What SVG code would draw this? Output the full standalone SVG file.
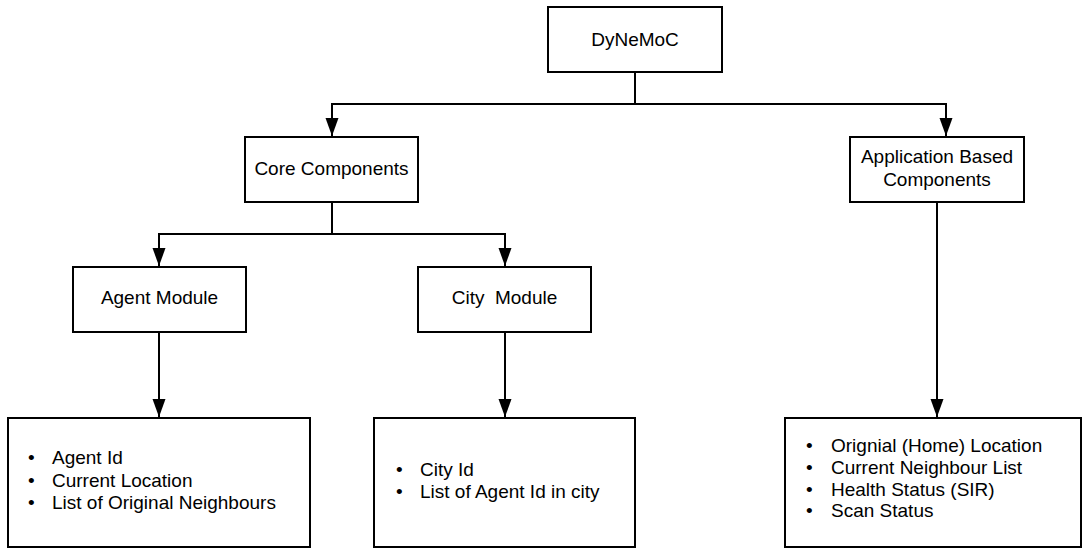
<svg xmlns="http://www.w3.org/2000/svg" width="1083" height="550" viewBox="0 0 1083 550">
  <style>
    .box { fill: #ffffff; stroke: #000000; stroke-width: 2; }
    .lbl { font-family: "Liberation Sans", Arial, sans-serif; font-size: 19px; fill: #000000; }
    .mid { text-anchor: middle; }
    .wire { fill: none; stroke: #000000; stroke-width: 2; }
  </style>
  <defs>
    <marker id="arrow" markerUnits="userSpaceOnUse" markerWidth="18" markerHeight="14" refX="18" refY="7" viewBox="0 0 18 14" orient="auto">
      <path d="M0,0.5 L18,7 L0,13.5 z" fill="#000000"/>
    </marker>
  </defs>

  <rect width="1083" height="550" fill="#ffffff"/>

  <!-- connectors -->
  <g id="connectors">
    <path class="wire" d="M635,72 V104 H332 V136" marker-end="url(#arrow)"/>
    <path class="wire" d="M635,104 H946 V136" marker-end="url(#arrow)"/>
    <path class="wire" d="M332,202 V234 H159 V266" marker-end="url(#arrow)"/>
    <path class="wire" d="M332,234 H505 V266" marker-end="url(#arrow)"/>
    <path class="wire" d="M159,332 V417" marker-end="url(#arrow)"/>
    <path class="wire" d="M505,332 V417" marker-end="url(#arrow)"/>
    <path class="wire" d="M937,202 V417" marker-end="url(#arrow)"/>
  </g>

  <g id="dynemoc">
    <rect class="box" x="548" y="7" width="174" height="65"/>
    <text class="lbl mid" x="635" y="46">DyNeMoC</text>
  </g>

  <g id="core-components">
    <rect class="box" x="245" y="137" width="173" height="65"/>
    <text class="lbl mid" x="331.5" y="175">Core Components</text>
  </g>

  <g id="application-components">
    <rect class="box" x="850" y="137" width="174" height="65"/>
    <text class="lbl mid" x="937" y="163">Application Based</text>
    <text class="lbl mid" x="937" y="186">Components</text>
  </g>

  <g id="agent-module">
    <rect class="box" x="73" y="267" width="173" height="65"/>
    <text class="lbl mid" x="159.5" y="304">Agent Module</text>
  </g>

  <g id="city-module">
    <rect class="box" x="418" y="267" width="173" height="65"/>
    <text class="lbl mid" x="504.5" y="304" xml:space="preserve">City  Module</text>
  </g>

  <g id="agent-details">
    <rect class="box" x="8" y="418" width="302" height="129"/>
    <text class="lbl" x="28" y="464">•</text>
    <text class="lbl" x="52" y="464">Agent Id</text>
    <text class="lbl" x="28" y="487">•</text>
    <text class="lbl" x="52" y="487">Current Location</text>
    <text class="lbl" x="28" y="509">•</text>
    <text class="lbl" x="52" y="509">List of Original Neighbours</text>
  </g>

  <g id="city-details">
    <rect class="box" x="374" y="418" width="261" height="129"/>
    <text class="lbl" x="396" y="476">•</text>
    <text class="lbl" x="420" y="476">City Id</text>
    <text class="lbl" x="396" y="498">•</text>
    <text class="lbl" x="420" y="498">List of Agent Id in city</text>
  </g>

  <g id="application-details">
    <rect class="box" x="785" y="418" width="296" height="129"/>
    <text class="lbl" x="806" y="452">•</text>
    <text class="lbl" x="831" y="452">Orignial (Home) Location</text>
    <text class="lbl" x="806" y="474">•</text>
    <text class="lbl" x="831" y="474">Current Neighbour List</text>
    <text class="lbl" x="806" y="496">•</text>
    <text class="lbl" x="831" y="496">Health Status (SIR)</text>
    <text class="lbl" x="806" y="517">•</text>
    <text class="lbl" x="831" y="517">Scan Status</text>
  </g>
</svg>
